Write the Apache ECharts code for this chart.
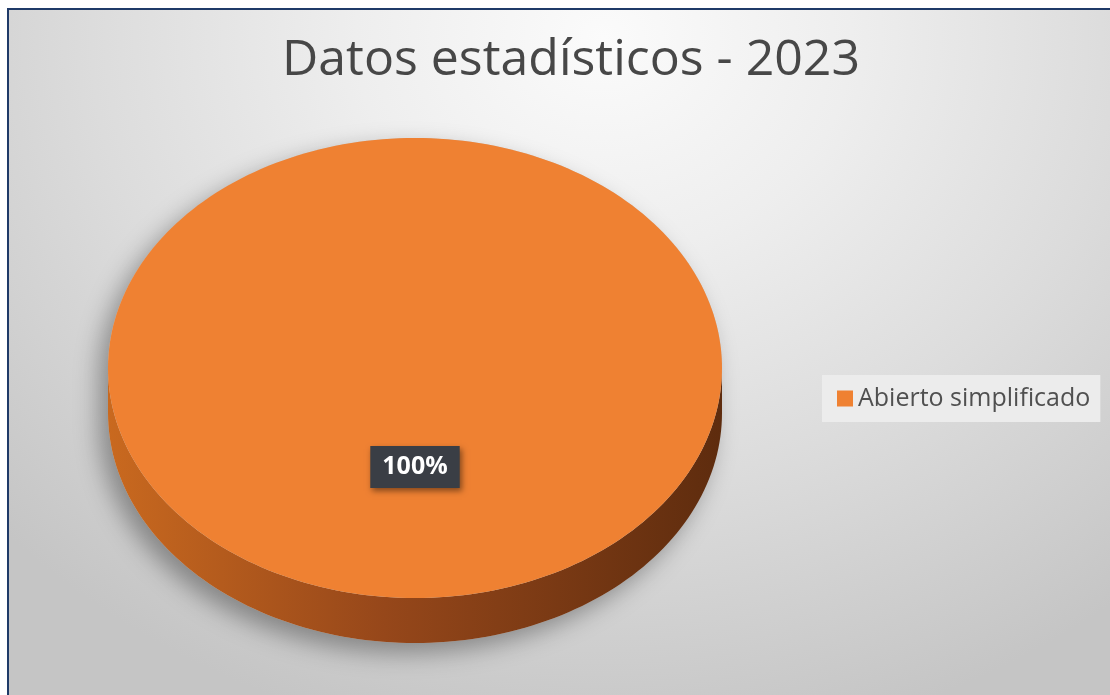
<!DOCTYPE html>
<html>
<head>
<meta charset="utf-8">
<script src="https://cdn.jsdelivr.net/npm/echarts@6/dist/echarts.min.js"></script>
<style>
  html, body { margin: 0; padding: 0; width: 1110px; height: 695px; background: #ffffff; overflow: hidden; }
  #bg { position: absolute; left: 7px; top: 8px; width: 1103px; height: 687px; box-sizing: border-box;
        border-top: 2px solid #1f3a68; border-left: 2px solid #1f3a68;
        background: radial-gradient(ellipse 75% 105% at 54% 4%, #fbfbfb 0%, #eeeeee 30%, #dcdcdc 62%, #c5c5c5 100%); }
  #chart { position: absolute; left: 0; top: 0; width: 1110px; height: 695px; }
</style>
</head>
<body>
<div id="bg"></div>
<div id="chart"></div>
<script>
const titleText = 'Datos estadísticos - 2023';
const categories = ['Abierto simplificado'];
const values = [100];
const colors = ['#ef8132'];

const chart = echarts.init(document.getElementById('chart'), null, { renderer: 'canvas' });

const total = values.reduce((a, b) => a + b, 0);
const PIE = { cx: 415, cy: 368, rx: 307, ry: 230, depth: 45 };

function ept(theta, dy) {
  return [PIE.cx + PIE.rx * Math.cos(theta), PIE.cy + dy + PIE.ry * Math.sin(theta)];
}
function arcPts(a, b, dy, n) {
  const pts = [];
  for (let i = 0; i <= n; i++) pts.push(ept(a + (b - a) * i / n, dy));
  return pts;
}

function makeRender(seriesIdx) {
  return function (params, api) {
    const v = api.value(0);
    let cum = 0;
    for (let i = 0; i < seriesIdx; i++) cum += values[i];
    const a0 = -Math.PI / 2 + 2 * Math.PI * cum / total;
    const a1 = a0 + 2 * Math.PI * v / total;
    const full = (v / total) >= 0.9999;
    const children = [];

    if (seriesIdx === 0) {
      const sil = arcPts(Math.PI, 2 * Math.PI, 0, 120).concat(arcPts(0, Math.PI, PIE.depth, 120));
      children.push({
        type: 'polygon', shape: { points: sil },
        style: { fill: '#c8c8c8', shadowBlur: 24, shadowColor: 'rgba(0,0,0,0.35)', shadowOffsetX: -9, shadowOffsetY: 10 },
        silent: true
      });
    }

    const ranges = [[a0, a1], [a0 - 2 * Math.PI, a1 - 2 * Math.PI], [a0 + 2 * Math.PI, a1 + 2 * Math.PI]];
    ranges.forEach(r => {
      const lo = Math.max(r[0], 0), hi = Math.min(r[1], Math.PI);
      if (hi > lo) {
        const pts = arcPts(lo, hi, 0, 120).concat(arcPts(hi, lo, PIE.depth, 120));
        children.push({
          type: 'polygon', shape: { points: pts },
          style: {
            fill: new echarts.graphic.LinearGradient(0, 0, 1, 0, [
              { offset: 0, color: '#c9691f' },
              { offset: 0.45, color: '#96471a' },
              { offset: 1, color: '#5e2c0e' }
            ])
          }
        });
      }
    });

    let topPts = arcPts(a0, a1, 0, 240);
    if (!full) topPts = [[PIE.cx, PIE.cy]].concat(topPts);
    children.push({
      type: 'polygon', shape: { points: topPts },
      style: { fill: api.visual('color') }
    });

    const mid = (a0 + a1) / 2;
    const f = 0.43;
    const pct = Math.round(v / total * 100) + '%';
    children.push({
      type: 'text',
      x: PIE.cx + PIE.rx * f * Math.cos(mid),
      y: PIE.cy + PIE.ry * f * Math.sin(mid),
      style: {
        text: pct, fill: '#ffffff', font: 'bold 25px "Open Sans", sans-serif',
        align: 'center', verticalAlign: 'middle',
        backgroundColor: '#3a3e45', padding: [9, 12, 8, 12],
        shadowBlur: 6, shadowColor: 'rgba(0,0,0,0.45)', shadowOffsetX: 2, shadowOffsetY: 3
      }
    });

    return { type: 'group', children: children };
  };
}

const option = {
  animation: false,
  backgroundColor: 'transparent',
  title: {
    text: titleText,
    left: 277, top: 31,
    textStyle: { fontFamily: '"Open Sans", sans-serif', fontSize: 50, fontWeight: 'normal', color: '#474747' }
  },
  legend: {
    data: categories,
    orient: 'vertical',
    left: 822, top: 375,
    padding: [11, 10, 11, 15],
    backgroundColor: '#ececec',
    icon: 'rect', itemWidth: 16, itemHeight: 16,
    selectedMode: false,
    textStyle: { fontFamily: '"Open Sans", sans-serif', fontSize: 25, color: '#505050' }
  },
  series: categories.map((c, i) => ({
    type: 'custom',
    name: c,
    coordinateSystem: 'none',
    itemStyle: { color: colors[i] },
    data: [[values[i]]],
    renderItem: makeRender(i)
  }))
};
chart.setOption(option);
</script>
</body>
</html>
